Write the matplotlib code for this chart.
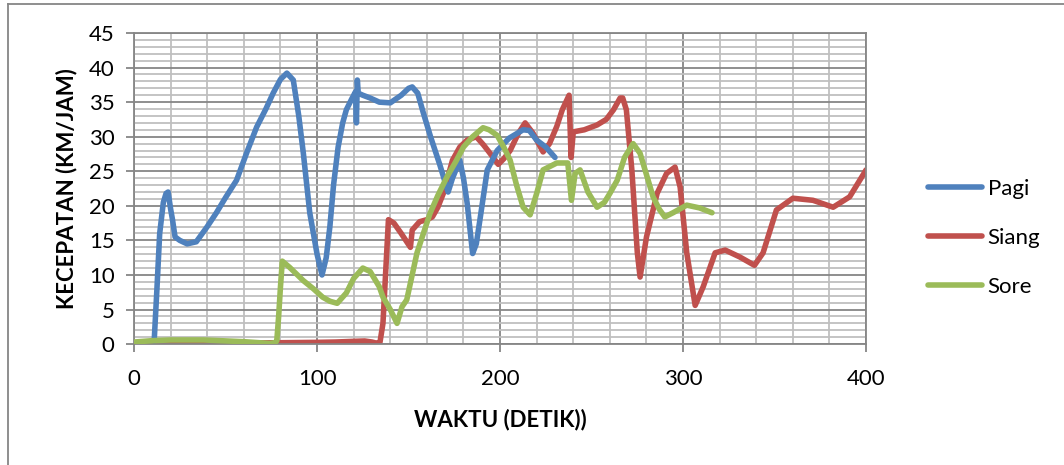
import matplotlib.pyplot as plt
from matplotlib.ticker import MultipleLocator
from matplotlib.lines import Line2D

# waktu (detik) vs kecepatan (km/jam)
pagi_x = [11, 12.5, 14, 16, 17.5, 18.6, 20, 21, 22.4, 25, 29, 34, 40, 45, 50, 56, 62, 67, 72, 76,
          80, 83.5, 87, 90, 92.5, 96, 100, 102.7, 105, 107, 109, 111.5, 114, 116, 119, 121, 121.5,
          122, 122.5, 125, 129, 134, 140, 146, 150, 152, 155, 158, 162, 167, 171.6, 174, 178, 180,
          182, 185, 187, 189, 193, 198.4, 205, 212.6, 216, 220, 225, 230]
pagi_y = [0.5, 8, 16, 20.5, 21.8, 22, 19.5, 18, 15.5, 15, 14.5, 14.8, 17, 19, 21.2, 23.7, 28, 31.4,
          34, 36.3, 38.3, 39.2, 38.2, 33, 27.6, 19, 13, 10, 12.5, 17, 23, 28.5, 32, 33.9, 35.5, 36.5,
          32, 38.2, 36.3, 36, 35.6, 35, 34.9, 36, 37, 37.2, 36.3, 33.5, 30, 26, 22, 24, 26.6, 24,
          20.4, 13.1, 14.5, 18, 25.2, 28, 29.8, 31, 30.9, 29.5, 28.5, 27]

siang_x = [0, 20, 40, 60, 80, 100, 110, 120, 126, 130, 133, 134.4, 136, 137, 139, 142, 146, 151,
           152, 156, 160, 163, 166, 169, 174, 178, 182, 187, 191, 194.5, 199, 202, 205.5, 210,
           213.7, 218, 223.5, 227, 231, 234, 237.7, 238.8, 240, 246, 253, 258, 262, 265.6, 267,
           269, 272, 275, 276.5, 280, 285.8, 291, 295.6, 298.4, 302, 306.6, 311, 317.5, 323, 331,
           339, 343.7, 351, 360, 371, 382, 391, 400]
siang_y = [0, 0.05, 0.1, 0.15, 0.2, 0.25, 0.3, 0.4, 0.45, 0.3, 0.1, 0.3, 3, 8, 18, 17.5, 16, 14,
           16.5, 17.7, 18, 18.4, 19.8, 21.8, 26.6, 28.5, 29.5, 30, 28.8, 27.6, 26, 26.8, 28, 30.5,
           32, 30.5, 27.8, 29, 31.5, 33.9, 36, 27, 30.7, 31, 31.7, 32.5, 33.9, 35.6, 35.6, 33.9,
           25.2, 13.2, 9.7, 15.5, 21.8, 24.7, 25.6, 22.7, 13.2, 5.6, 8.3, 13.2, 13.6, 12.6, 11.4,
           13.2, 19.4, 21.1, 20.8, 19.8, 21.3, 25.2]

sore_x = [0, 10, 20, 38, 60, 74, 77, 78, 79, 80, 81, 85, 92.4, 98, 103, 107, 111, 116, 120, 125,
          129, 134, 136, 140, 143.7, 146.4, 149, 154.6, 161.7, 166, 171, 176, 180, 185, 190.7, 194,
          198.4, 202, 205.5, 209, 212.6, 216.4, 220, 223.5, 231, 237, 239, 241, 243.7, 248, 253,
          257, 260, 264, 268, 272.7, 276.5, 280, 283.6, 287, 290, 294.5, 302, 309, 315.8]
sore_y = [0.3, 0.5, 0.6, 0.6, 0.35, 0.1, 0.2, 0.5, 4, 8.3, 12, 11.1, 9.2, 8, 6.8, 6.2, 5.9, 7.4,
          9.5, 11, 10.5, 8.3, 6.8, 5, 3, 5.4, 6.4, 13.2, 18.9, 21.5, 24.2, 26.5, 28.5, 30, 31.3, 31,
          30.2, 28.5, 26.6, 23, 19.8, 18.7, 21.8, 25.2, 26.2, 26.2, 20.8, 24.7, 25.2, 22, 19.8,
          20.5, 21.8, 23.7, 27, 29, 27.6, 24.5, 21.3, 19.5, 18.4, 19, 20.1, 19.7, 19]

plt.rcParams['font.family'] = ['Lato', 'DejaVu Sans']

fig = plt.figure(figsize=(10.64, 4.65), dpi=100)
ax = fig.add_axes([0.126, 0.260, 0.688, 0.669])

lw = 4.0
ax.plot(pagi_x, pagi_y, color='#4F81BD', lw=lw, solid_joinstyle='round', solid_capstyle='round', label='Pagi', zorder=3)
ax.plot(siang_x, siang_y, color='#C0504D', lw=lw, solid_joinstyle='round', solid_capstyle='round', label='Siang', zorder=2)
ax.plot(sore_x, sore_y, color='#9BBB59', lw=lw, solid_joinstyle='round', solid_capstyle='round', label='Sore', zorder=4)

ax.set_xlim(0, 400)
ax.set_ylim(0, 45)
ax.xaxis.set_major_locator(MultipleLocator(100))
ax.xaxis.set_minor_locator(MultipleLocator(20))
ax.yaxis.set_major_locator(MultipleLocator(5))
ax.yaxis.set_minor_locator(MultipleLocator(1))
ax.grid(which='major', color='#868686', lw=1.3, zorder=0)
ax.grid(which='minor', color='#BFBFBF', lw=1.3, zorder=0)
ax.set_axisbelow(True)
for s in ax.spines.values():
    s.set_color('#868686')
    s.set_linewidth(1.3)
ax.tick_params(which='major', direction='out', length=6, color='#868686', width=1.3, labelsize=16, pad=8)
ax.tick_params(which='minor', length=0)
ax.tick_params(axis='x', pad=12)

ax.set_xlabel('WAKTU (DETIK))', fontsize=16, fontweight='bold', labelpad=14)
ax.set_ylabel('KECEPATAN (KM/JAM)', fontsize=16, fontweight='bold', labelpad=8)

handles = [Line2D([], [], color=c, lw=lw, solid_capstyle='round') for c in ['#4F81BD', '#C0504D', '#9BBB59']]
fig.legend(handles, ['Pagi', 'Siang', 'Sore'], loc='center left', bbox_to_anchor=(0.853, 0.488),
           frameon=False, fontsize=16, handlelength=2.45, handletextpad=0.25, labelspacing=1.3)

# outer chart frame
fig.add_artist(Line2D([0.0075, 0.0075], [0.0, 0.991], color='#868686', lw=1.3))
fig.add_artist(Line2D([0.0075, 1.0], [0.991, 0.991], color='#868686', lw=1.3))

fig.savefig('out.png', dpi=100)
